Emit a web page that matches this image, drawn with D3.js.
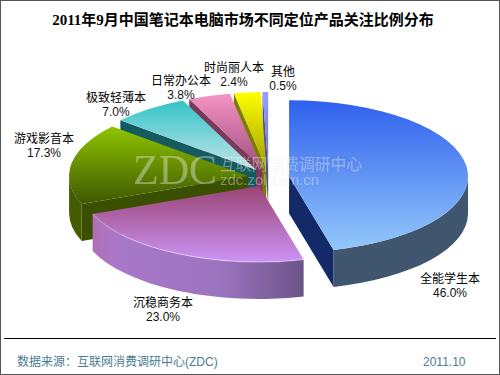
<!DOCTYPE html>
<html>
  <head>
    <meta charset="utf-8" />
    <script src="https://cdnjs.cloudflare.com/ajax/libs/d3/7.6.1/d3.min.js"></script>
    <style>
      html, body { margin: 0; padding: 0; background: #fff; }
      svg { display: block; }
      text { font-family: "Liberation Sans", "Noto Sans CJK SC", sans-serif; }
    </style>
  </head>
  <body>
    <svg width="500" height="375"></svg>
    <script>
      const categories = ["全能学生本", "沉稳商务本", "游戏影音本", "极致轻薄本", "日常办公本", "时尚丽人本", "其他"];
      const shares = [46.0, 23.0, 17.3, 7.0, 3.8, 2.4, 0.5];
      const labelPos = [[450, 283], [163, 307], [44, 143], [116, 102], [181, 85], [234, 72], [283, 76]];
      const topColors = [
        ["#3060ee", "#94c8fa"], ["#9a4474", "#cc94f6"], ["#90c400", "#3e5800"], ["#34c4c8", "#c4e4e8"],
        ["#f494c4", "#a04e80"], ["#ffff00", "#a0a000"], ["#9c9cff", "#7070c0"]
      ];
      const sideColors = ["#40566e", "url(#purpleSide)", "#435c00", "#145a5e", "#7a3a5a", "#808000", "#50508c"];
      const edgeColors = ["#142a68", "#8a4a8a", "#3a5000", "#145a5e", "#7a3a5a", "#7c7c00", "#50508c"];

      const svg = d3.select("svg");
      const rx = 179, ry = 76, depth = 37;
      const cx = 268.5, cy = 177.5;
      const pullX = 20.7, pullY = 9.5;

      const pie = d3.pie().value((d) => d).sort(null);
      const arcs = pie(shares);

      const defs = svg.append("defs");
      arcs.forEach((a, i) => {
        const g = defs.append("linearGradient").attr("id", `top${i}`).attr("x1", 0).attr("x2", 0).attr("y1", 0).attr("y2", 1);
        g.append("stop").attr("offset", 0).attr("stop-color", topColors[i][0]);
        g.append("stop").attr("offset", 1).attr("stop-color", topColors[i][1]);
      });
      const ps = defs.append("linearGradient").attr("id", "purpleSide").attr("x1", 0).attr("x2", 1).attr("y1", 0).attr("y2", 0);
      ps.append("stop").attr("offset", 0).attr("stop-color", "#b070b8");
      ps.append("stop").attr("offset", 0.12).attr("stop-color", "#a878c8");
      ps.append("stop").attr("offset", 0.6).attr("stop-color", "#9c74c0");
      ps.append("stop").attr("offset", 1).attr("stop-color", "#6c5488");
      defs.append("filter").attr("id", "wmShadow")
        .attr("x", "-10%").attr("y", "-20%").attr("width", "120%").attr("height", "140%")
        .append("feDropShadow").attr("dx", 1).attr("dy", 1).attr("stdDeviation", 0.8)
        .attr("flood-color", "#667").attr("flood-opacity", 0.3);

      // frame
      svg.append("rect").attr("x", 0.5).attr("y", 0.5).attr("width", 499).attr("height", 374)
        .attr("fill", "#fff").attr("stroke", "#555").attr("stroke-width", 1);

      svg.append("text").attr("x", 243).attr("y", 25).attr("text-anchor", "middle")
        .style("font-family", '"Liberation Serif", "Noto Sans CJK SC", serif')
        .style("font-size", "15px").style("font-weight", "bold")
        .text("2011年9月中国笔记本电脑市场不同定位产品关注比例分布");

      // painted back to front, so the biggest slices go last
      const order = d3.range(arcs.length).reverse();
      const chart = svg.append("g");

      order.forEach((i) => {
        const a = arcs[i];
        const mid = (a.startAngle + a.endAngle) / 2;
        const ox = cx + pullX * Math.sin(mid);
        const oy = cy - pullY * Math.cos(mid);
        const pt = (t, dz = 0) => [ox + rx * Math.sin(t), oy - ry * Math.cos(t) + dz];
        const rim = (t0, t1, dz = 0) => {
          const p = pt(t1, dz);
          const large = Math.abs(t1 - t0) > Math.PI ? 1 : 0;
          const sweep = t1 > t0 ? 1 : 0;
          return `A${rx},${ry} 0 ${large} ${sweep} ${p[0]},${p[1]}`;
        };
        const g = chart.append("g");

        // cut faces
        [a.startAngle, a.endAngle].forEach((t, j) => {
          const seen = j === 0 ? t > Math.PI : t < Math.PI;
          if (!seen) return;
          const p = pt(t);
          g.append("path")
            .attr("d", `M${ox},${oy} L${p[0]},${p[1]} L${p[0]},${p[1] + depth} L${ox},${oy + depth} Z`)
            .attr("fill", edgeColors[i]);
        });

        // outer wall, only the part on the near side
        const w0 = Math.max(a.startAngle, Math.PI / 2);
        const w1 = Math.min(a.endAngle, Math.PI * 1.5);
        if (w1 > w0) {
          const p0 = pt(w0), p1 = pt(w1, depth);
          g.append("path")
            .attr("d", `M${p0[0]},${p0[1]} ${rim(w0, w1)} L${p1[0]},${p1[1]} ${rim(w1, w0, depth)} Z`)
            .attr("fill", sideColors[i]);
        }

        // top surface
        const s = pt(a.startAngle);
        g.append("path")
          .attr("d", `M${ox},${oy} L${s[0]},${s[1]} ${rim(a.startAngle, a.endAngle)} Z`)
          .attr("fill", `url(#top${i})`);

        // only the purple slice has a light rim
        if (i === 1) {
          const p0 = pt(w0);
          g.append("path")
            .attr("d", `M${p0[0]},${p0[1]} ${rim(w0, w1)}`)
            .attr("fill", "none").attr("stroke", "#fff").attr("stroke-opacity", 0.35).attr("stroke-width", 1.2);
        }
      });

      // watermark
      const wm = [
        { t: "ZDC", x: 133, y: 184, size: 42, serif: true },
        { t: "互联网消费调研中心", x: 220, y: 170, size: 15.8 },
        { t: "zdc.zol.com.cn", x: 220, y: 185, size: 15 }
      ];
      const mark = svg.append("g").attr("fill", "#fff").attr("fill-opacity", 0.34).attr("filter", "url(#wmShadow)");
      wm.forEach((w) => {
        mark.append("text").attr("x", w.x).attr("y", w.y)
          .style("font-family", w.serif ? '"Liberation Serif", serif' : null)
          .style("font-size", `${w.size}px`).text(w.t);
      });

      // labels
      const labels = svg.append("g").attr("font-size", 12).attr("text-anchor", "middle").attr("fill", "#000");
      categories.forEach((c, i) => {
        const [x, y] = labelPos[i];
        labels.append("text").attr("x", x).attr("y", y).text(c);
        labels.append("text").attr("x", x).attr("y", y + 14).attr("fill", "#111").text(d3.format(".1f")(shares[i]) + "%");
      });

      // footer
      svg.append("line").attr("x1", 4).attr("x2", 496).attr("y1", 338.5).attr("y2", 338.5)
        .attr("stroke", "#000").attr("stroke-width", 1);
      svg.append("text").attr("x", 17).attr("y", 366).attr("fill", "#4a7c94").style("font-size", "12px")
        .text("数据来源：互联网消费调研中心(ZDC)");
      svg.append("text").attr("x", 423).attr("y", 366).attr("fill", "#4a7c94").style("font-size", "12px")
        .text("2011.10");
    </script>
  </body>
</html>
